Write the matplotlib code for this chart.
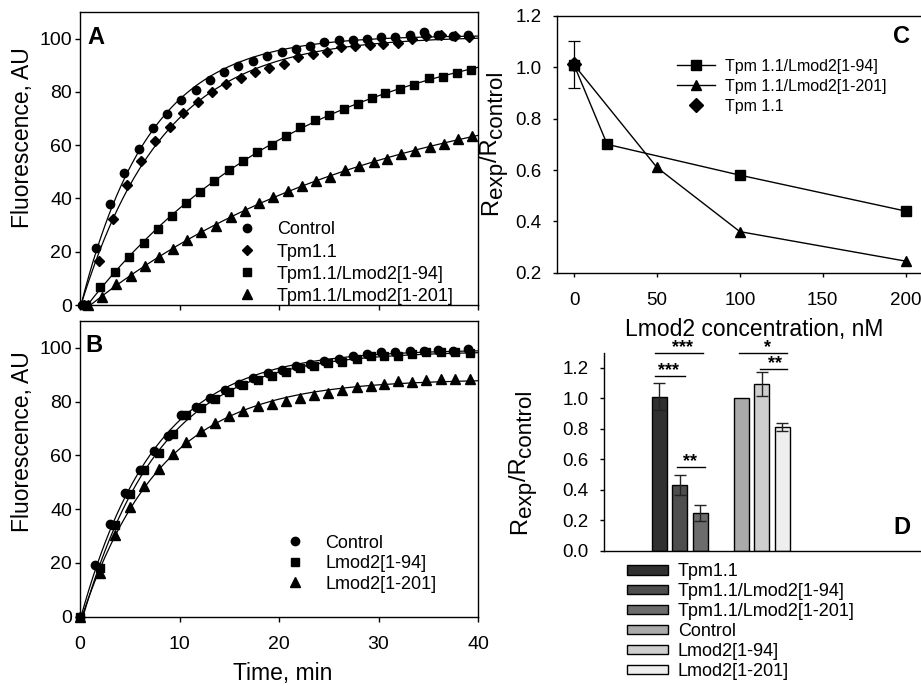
import numpy as np
import matplotlib
matplotlib.use('Agg')
import matplotlib.pyplot as plt

plt.rcParams['font.family'] = ['Liberation Sans', 'DejaVu Sans']

# ---------------- data ----------------
# Panel A
tA_ctrl = [0.2, 1.6, 3.0, 4.4, 5.9, 7.3, 8.7, 10.2, 11.7, 13.1, 14.5, 15.9, 17.4, 18.8,
           20.3, 21.7, 23.1, 24.5, 26.0, 27.4, 28.8, 30.3, 31.7, 33.2, 34.6, 36.0, 37.5, 39.0]
yA_ctrl = [0, 21.3, 38.0, 49.7, 58.6, 66.4, 71.8, 77.1, 80.8, 84.3, 87.3, 89.6, 91.5, 93.3,
           94.8, 96.1, 97.4, 98.6, 99.4, 99.6, 100.0, 100.6, 100.6, 101.5, 102.4, 101.5, 101.1, 101.5]
tA_tpm = [0.4, 1.9, 3.3, 4.7, 6.1, 7.5, 9.0, 10.4, 11.9, 13.3, 14.7, 16.2, 17.6, 19.0,
          20.5, 21.9, 23.4, 24.8, 26.2, 27.6, 29.1, 30.5, 32.0, 33.4, 34.8, 36.3, 37.7, 39.1]
yA_tpm = [0, 16.7, 32.3, 45.1, 53.9, 61.4, 66.8, 72.1, 76.2, 79.8, 83.1, 85.2, 87.3, 89.0,
          90.5, 93.1, 94.4, 95.0, 96.9, 97.1, 97.5, 98.0, 98.4, 100.0, 101.1, 101.2, 100.9, 100.5]
tA_94 = [0.6, 2.0, 3.5, 4.9, 6.4, 7.8, 9.2, 10.7, 12.1, 13.5, 15.0, 16.4, 17.8, 19.3,
         20.7, 22.1, 23.6, 25.0, 26.5, 27.9, 29.3, 30.7, 32.2, 33.6, 35.1, 36.5, 37.9, 39.3]
yA_94 = [0, 6.7, 12.5, 17.9, 23.2, 28.5, 33.5, 38.2, 42.6, 46.7, 50.5, 54.1, 57.4, 60.2,
         63.3, 66.7, 69.3, 71.4, 73.7, 75.6, 77.7, 79.6, 81.2, 82.7, 85.2, 85.6, 87.1, 88.4]
tA_201 = [0.8, 2.2, 3.6, 5.1, 6.5, 7.9, 9.3, 10.8, 12.2, 13.7, 15.2, 16.6, 18.0, 19.4,
          20.9, 22.3, 23.7, 25.1, 26.6, 28.0, 29.5, 30.9, 32.3, 33.7, 35.2, 36.6, 38.0, 39.4]
yA_201 = [0, 3.1, 7.9, 11.0, 14.8, 17.9, 21.1, 24.4, 27.3, 29.8, 32.9, 35.4, 38.2, 40.5,
          42.9, 44.8, 46.7, 48.2, 50.5, 52.3, 53.8, 54.9, 56.7, 58.0, 59.5, 60.5, 62.3, 63.6]
labels_A = ['Control', 'Tpm1.1', 'Tpm1.1/Lmod2[1-94]', 'Tpm1.1/Lmod2[1-201]']

# Panel B
tB_ctrl = [0, 1.5, 3.0, 4.5, 6.0, 7.4, 8.8, 10.2, 11.7, 13.1, 14.6, 16.0, 17.4, 18.9,
           20.3, 21.7, 23.1, 24.5, 26.0, 27.4, 28.8, 30.3, 31.7, 33.2, 34.6, 36.0, 37.5, 39.0]
yB_ctrl = [0, 19.2, 34.3, 46.2, 54.7, 61.5, 67.4, 74.9, 77.9, 81.4, 84.2, 86.6, 88.9, 90.6,
           91.6, 93.1, 94.1, 95.0, 95.9, 96.9, 97.8, 98.4, 98.6, 99.0, 99.0, 99.3, 99.0, 99.4]
tB_lm = [0, 2.0, 3.5, 5.0, 6.4, 7.9, 9.3, 10.7, 12.2, 13.6, 15.0, 16.4, 17.9, 19.3,
         20.7, 22.1, 23.5, 24.9, 26.3, 27.8, 29.2, 30.6, 32.0, 33.4, 34.8, 36.3, 37.7, 39.2]
yB_94 = [0, 18.3, 34.0, 45.5, 54.5, 61.0, 67.8, 74.9, 77.7, 80.8, 83.5, 86.3, 87.9, 89.7,
         90.9, 92.4, 93.4, 94.3, 94.9, 95.9, 96.8, 97.1, 97.1, 97.8, 98.4, 98.4, 98.4, 98.0]
yB_201 = [0, 16.1, 30.3, 40.8, 48.5, 55.1, 60.4, 65.0, 68.9, 72.0, 74.5, 76.5, 78.2, 79.2,
          80.4, 81.4, 82.3, 83.1, 84.4, 85.4, 86.0, 86.6, 87.6, 87.2, 88.1, 88.5, 88.5, 88.6]
labels_B = ['Control', 'Lmod2[1-94]', 'Lmod2[1-201]']

# Panel C
conc_94 = [0, 20, 100, 200]
ratio_94 = [1.01, 0.70, 0.58, 0.44]
conc_201 = [0, 50, 100, 200]
ratio_201 = [1.01, 0.61, 0.36, 0.245]
conc_tpm = [0]
ratio_tpm = [1.012]
err_tpm = [0.092]
labels_C = ['Tpm 1.1/Lmod2[1-94]', 'Tpm 1.1/Lmod2[1-201]', 'Tpm 1.1']

# Panel D
bar_labels = ['Tpm1.1', 'Tpm1.1/Lmod2[1-94]', 'Tpm1.1/Lmod2[1-201]',
              'Control', 'Lmod2[1-94]', 'Lmod2[1-201]']
bar_pos = [0, 1, 2, 4, 5, 6]
bar_vals = [1.012, 0.432, 0.247, 1.0, 1.093, 0.814]
bar_errs = [0.09, 0.065, 0.055, 0.0, 0.08, 0.025]
bar_colors = ['#303030', '#4e4e4e', '#6c6c6c', '#aaaaaa', '#cecece', '#eeeeee']
sig_x0 = [-0.2, -0.2, 0.87, 3.9, 4.92]
sig_x1 = [2.14, 1.26, 2.23, 6.24, 6.22]
sig_y = [1.296, 1.15, 0.55, 1.296, 1.194]
sig_tx = [1.15, 0.48, 1.5, 5.26, 5.65]
sig_txt = ['***', '***', '**', '*', '**']

# ---------------- layout helpers ----------------
W, H = 921, 686
fig = plt.figure(figsize=(W / 100, H / 100), dpi=100)


def rect(l, t, r, b):
    return [l / W, 1 - b / H, (r - l) / W, (b - t) / H]


def fit_curve(t, y):
    t = np.asarray(t, float)
    y = np.asarray(y, float)
    m = t > 1.0
    t, y = t[m], y[m]
    ks = np.linspace(0.01, 0.5, 491)
    t0s = np.linspace(0.1, 1.5, 29)
    K, T0 = np.meshgrid(ks, t0s)
    K = K.ravel()[:, None]
    T0 = T0.ravel()[:, None]
    F = 1 - np.exp(-K * (t[None, :] - T0))
    A = (F @ y) / (F * F).sum(1)
    res = ((A[:, None] * F - y[None, :]) ** 2).sum(1)
    i = np.argmin(res)
    return A[i], K[i, 0], T0[i, 0]


def draw_fit(ax, t, y):
    A, k, t0 = fit_curve(t, y)
    tt = np.linspace(t0, 40, 400)
    ax.plot(tt, A * (1 - np.exp(-k * (tt - t0))), color='black', lw=0.9, zorder=2)


def style_box(ax, lw=1.0):
    for s in ax.spines.values():
        s.set_linewidth(lw)
    ax.tick_params(direction='out', length=3.6, width=1.0, labelsize=14, pad=2)


mk = dict(color='black', linestyle='none', zorder=3)

# ---------------- Panel A ----------------
axA = fig.add_axes(rect(80, 12, 478, 305))
series_A = [(tA_ctrl, yA_ctrl, 'o', 6.0), (tA_tpm, yA_tpm, 'D', 5.2),
            (tA_94, yA_94, 's', 5.6), (tA_201, yA_201, '^', 6.5)]
for (t, y, m, ms), lab in zip(series_A, labels_A):
    draw_fit(axA, t, y)
    axA.plot(t, y, marker=m, ms=ms, label=lab, clip_on=False, **mk)
axA.set_xlim(0, 40)
axA.set_ylim(0, 110)
axA.set_yticks([0, 20, 40, 60, 80, 100])
axA.set_xticks([0, 10, 20, 30, 40])
axA.tick_params(axis='x', labelbottom=False)
style_box(axA)
axA.text(96 / W, 1 - 38 / H, 'A', transform=fig.transFigure, fontsize=17,
         fontweight='bold', ha='center', va='center')
axA.legend(loc='upper left', bbox_to_anchor=(237.7 / W, 1 - 221.5 / H),
           bbox_transform=fig.transFigure, frameon=False, fontsize=13,
           handlelength=1.0, handletextpad=1.17, labelspacing=0.28,
           borderpad=0, borderaxespad=0)

# ---------------- Panel B ----------------
axB = fig.add_axes(rect(80, 321, 478, 616.7))
series_B = [(tB_ctrl, yB_ctrl, 'o', 6.0), (tB_lm, yB_94, 's', 5.6),
            (tB_lm, yB_201, '^', 6.5)]
for (t, y, m, ms), lab in zip(series_B, labels_B):
    draw_fit(axB, t, y)
    axB.plot(t, y, marker=m, ms=ms, label=lab, clip_on=False, **mk)
axB.set_xlim(0, 40)
axB.set_ylim(0, 110)
axB.set_yticks([0, 20, 40, 60, 80, 100])
axB.set_xticks([0, 10, 20, 30, 40])
style_box(axB)
axB.tick_params(axis='x', pad=10)
axB.text(94 / W, 1 - 345 / H, 'B', transform=fig.transFigure, fontsize=17,
         fontweight='bold', ha='center', va='center')
axB.legend(loc='upper left', bbox_to_anchor=(286 / W, 1 - 534.5 / H),
           bbox_transform=fig.transFigure, frameon=False, fontsize=13,
           handlelength=1.0, handletextpad=1.17, labelspacing=0.2,
           borderpad=0, borderaxespad=0)

fig.text(283 / W, 1 - 680 / H, 'Time, min', fontsize=16.5, ha='center', va='baseline')
fig.text(23 / W, 1 - 137.5 / H, 'Fluorescence, AU', fontsize=16.5, rotation=90,
         ha='center', va='center')
fig.text(23 / W, 1 - 442 / H, 'Fluorescence, AU', fontsize=16.5, rotation=90,
         ha='center', va='center')

# ---------------- Panel C ----------------
axC = fig.add_axes(rect(557, 16, 921, 272.7))
axC.plot(conc_94, ratio_94, marker='s', ms=6.5, color='black', lw=1.0,
         label=labels_C[0], zorder=3)
axC.plot(conc_201, ratio_201, marker='^', ms=7.5, color='black', lw=1.0,
         label=labels_C[1], zorder=3)
axC.errorbar(conc_tpm, ratio_tpm, yerr=err_tpm, fmt='none', ecolor='black',
             capsize=4, elinewidth=0.9, capthick=0.9, zorder=4)
axC.plot(conc_tpm, ratio_tpm, marker='D', ms=7, color='black', linestyle='none',
         label=labels_C[2], zorder=4)
axC.set_xlim(-10.25, 209.2)
axC.set_ylim(0.2, 1.2)
axC.set_xticks([0, 50, 100, 150, 200])
axC.set_yticks([0.2, 0.4, 0.6, 0.8, 1.0, 1.2])
axC.set_yticklabels([f'{v:.1f}' for v in [0.2, 0.4, 0.6, 0.8, 1.0, 1.2]])
axC.spines['right'].set_visible(False)
for s in axC.spines.values():
    s.set_linewidth(1.0)
axC.tick_params(direction='out', length=3, width=1.0, labelsize=13.5)
axC.tick_params(axis='x', pad=11)
axC.tick_params(axis='y', pad=8)
axC.legend(loc='upper left', bbox_to_anchor=(677 / W, 1 - 59 / H),
           bbox_transform=fig.transFigure, frameon=False, fontsize=11.5,
           handlelength=2.4, handletextpad=0.6, labelspacing=0.3,
           borderpad=0, borderaxespad=0, numpoints=1)
fig.text(901 / W, 1 - 36.7 / H, 'C', fontsize=17, fontweight='bold',
         ha='center', va='center')
fig.text(754.5 / W, 1 - 336 / H, 'Lmod2 concentration, nM', fontsize=16.5,
         ha='center', va='baseline')

# ---------------- Panel D ----------------
axD = fig.add_axes(rect(604, 352.7, 921, 550.7))
for p, v, c, lab in zip(bar_pos, bar_vals, bar_colors, bar_labels):
    axD.bar(p, v, width=0.73, color=c, edgecolor='black', linewidth=1.0,
            label=lab, zorder=2)
for p, v, e in zip(bar_pos, bar_vals, bar_errs):
    if e > 0:
        axD.errorbar(p, v, yerr=e, color='#222222', capsize=4, elinewidth=1.0,
                     capthick=1.0, zorder=3)
for x0, x1, y, tx, s in zip(sig_x0, sig_x1, sig_y, sig_tx, sig_txt):
    axD.plot([x0, x1], [y, y], color='black', lw=1.0, clip_on=False, zorder=3)
    axD.text(tx, y + 0.005, s, fontsize=13, ha='center', va='baseline',
             fontweight='bold', clip_on=False)
axD.set_xlim(-2.69, 12.77)
axD.set_ylim(0, 1.3)
axD.set_yticks([0, 0.2, 0.4, 0.6, 0.8, 1.0, 1.2])
axD.set_yticklabels([f'{v:.1f}' for v in [0, 0.2, 0.4, 0.6, 0.8, 1.0, 1.2]])
axD.set_xticks([])
axD.spines['top'].set_visible(False)
axD.spines['right'].set_visible(False)
for s in axD.spines.values():
    s.set_linewidth(1.0)
axD.tick_params(direction='out', length=3, width=1.0, labelsize=13.5, pad=8)
fig.text(901.7 / W, 1 - 528 / H, 'D', fontsize=17, fontweight='bold',
         ha='center', va='center')
axD.legend(loc='upper left', bbox_to_anchor=(626.7 / W, 1 - 563.5 / H),
           bbox_transform=fig.transFigure, frameon=False, fontsize=13,
           handlelength=2.29, handleheight=0.4, handletextpad=0.55,
           labelspacing=0.16, borderpad=0, borderaxespad=0)


# ---------------- composite rotated y labels ----------------
def comp_label(xc, yc, parts, size, sub_dx=5.5, sub_scale=0.95):
    r = fig.canvas.get_renderer()
    objs = []
    for s, sub in parts:
        t = fig.text(0, 0, s, rotation=90, fontsize=size * (sub_scale if sub else 1),
                     ha='center', va='bottom')
        objs.append((t, sub))
    hs = [t.get_window_extent(r).height for t, _ in objs]
    y = (H - yc) - sum(hs) / 2
    for (t, sub), h in zip(objs, hs):
        t.set_position(((xc + (sub_dx if sub else 0)) / W, y / H))
        y += h


fig.canvas.draw()
parts = [('R', False), ('exp', True), ('/R', False), ('control', True)]
comp_label(491, 143, parts, 17)
comp_label(520, 462, parts, 17)

fig.savefig('out.png', dpi=100)
